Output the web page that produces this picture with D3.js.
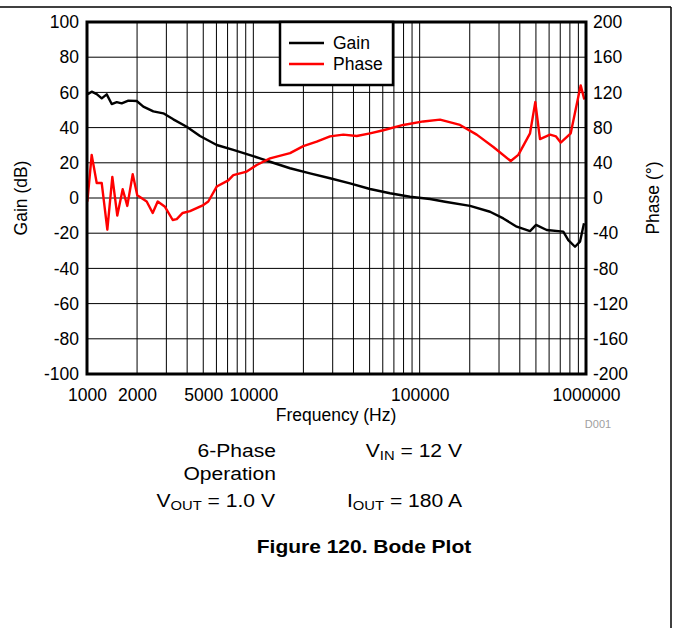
<!DOCTYPE html>
<html>
<head>
<meta charset="utf-8">
<script src="https://cdn.jsdelivr.net/npm/d3@7"></script>
<style>
  html, body { margin: 0; padding: 0; background: #fff; }
  svg { display: block; font-family: "Liberation Sans", Arial, sans-serif; }
</style>
</head>
<body>
<svg id="chart" width="673" height="628"></svg>
<script>
// ---- Data ----
const gainFreq = [1010, 1067, 1144, 1226, 1314, 1408, 1509, 1617, 1772, 1990, 2181, 2504, 2876, 3303, 3976, 4779, 6024, 7578, 9550, 10970, 12600, 16620, 21910, 28910, 38130, 50280, 66320, 87470, 115400, 142100, 200800, 264800, 318400, 383300, 460800, 500600, 580400, 730200, 782600, 858900, 920400, 972700];
const gainDb   = [58.9, 60.4, 59, 56.6, 58.9, 53.4, 54.5, 53.8, 55.3, 55.1, 51.9, 49.2, 48.1, 44.7, 40.5, 35.2, 30.1, 27.3, 24.4, 22.5, 20.6, 16.9, 14, 11.2, 8.3, 5.1, 2.7, 0.7, -0.6, -2.1, -4.5, -7.8, -11.6, -16.3, -18.8, -15.3, -18.2, -19.1, -23.9, -27.7, -24.8, -14.4];

const phaseFreq = [1005, 1067, 1144, 1226, 1325, 1420, 1521, 1639, 1747, 1883, 2006, 2285, 2483, 2661, 2944, 3276, 3462, 3761, 4162, 5004, 5361, 6024, 7071, 7578, 9124, 10480, 12600, 16620, 19970, 24040, 28910, 34750, 41830, 50280, 60450, 79720, 105200, 132600, 174800, 220300, 277300, 352700, 391900, 460800, 495600, 529000, 607700, 660200, 704600, 809400, 929300, 976800];
const phaseDeg  = [-4, 49, 17, 17, -36, 24, -20, 10, -9, 27, 3, -4, -17, -4, -10, -25, -24, -17, -15, -8, -4, 13, 20, 26, 30, 37.5, 45, 51, 59, 64, 70, 72, 70.5, 73.5, 77, 83, 87, 89, 83, 72, 58, 42, 49, 73.5, 109, 67, 72, 70, 63, 73.5, 128, 112];

const gainTicks  = [-100, -80, -60, -40, -20, 0, 20, 40, 60, 80, 100];
const phaseTicks = [-200, -160, -120, -80, -40, 0, 40, 80, 120, 160, 200];
const freqTickLabels = [1000, 2000, 5000, 10000, 100000, 1000000];
const freqGrid = [];
for (let dec = 1000; dec < 1000000; dec *= 10) for (let m = 1; m <= 9; m++) freqGrid.push(dec * m);
freqGrid.push(1000000);

const seriesNames = ["Gain", "Phase"];
const seriesColors = ["#000000", "#ff0000"];

// ---- Layout ----
const svg = d3.select("#chart");
const L = 87, R = 586, T = 22, B = 374;

const x = d3.scaleLog().domain([1000, 1000000]).range([L, R]);
const yG = d3.scaleLinear().domain([-100, 100]).range([B, T]);
const yP = d3.scaleLinear().domain([-200, 200]).range([B, T]);

// outer frame (top and right edges)
svg.append("line").attr("x1", 0).attr("x2", 671).attr("y1", 7).attr("y2", 7)
  .attr("stroke", "#000").attr("stroke-width", 1.5);
svg.append("line").attr("x1", 671).attr("x2", 671).attr("y1", 7).attr("y2", 628)
  .attr("stroke", "#000").attr("stroke-width", 1.5);

// grid
const grid = svg.append("g");
grid.selectAll("line.v").data(freqGrid).join("line")
  .attr("x1", d => x(d)).attr("x2", d => x(d)).attr("y1", T).attr("y2", B)
  .attr("stroke", "#000").attr("stroke-width", 1);
grid.selectAll("line.h").data(gainTicks).join("line")
  .attr("x1", L).attr("x2", R).attr("y1", d => yG(d)).attr("y2", d => yG(d))
  .attr("stroke", "#000").attr("stroke-width", 1);

// axes (labels only, via d3 axes)
const plain = d => String(d);
const axL = d3.axisLeft(yG).tickValues(gainTicks).tickFormat(plain).tickSize(0).tickPadding(8);
const gL = svg.append("g").attr("transform", `translate(${L},0)`).call(axL);
const axR = d3.axisRight(yP).tickValues(phaseTicks).tickFormat(plain).tickSize(0).tickPadding(7);
const gR = svg.append("g").attr("transform", `translate(${R},0)`).call(axR);
const axB = d3.axisBottom(x).tickValues(freqTickLabels).tickFormat(plain).tickSize(0).tickPadding(15);
const gB = svg.append("g").attr("transform", `translate(0,${B})`).call(axB);
[gL, gR, gB].forEach(g => {
  g.select(".domain").remove();
  g.selectAll("text").attr("font-size", 17.5).attr("fill", "#000")
    .attr("font-family", "'Liberation Sans', Arial, sans-serif");
});

// lines
const gainData = gainFreq.map((f, i) => [f, gainDb[i]]);
const phaseData = phaseFreq.map((f, i) => [f, phaseDeg[i]]);
const clipId = "plotclip";
svg.append("clipPath").attr("id", clipId).append("rect")
  .attr("x", L).attr("y", T).attr("width", R - L).attr("height", B - T);
svg.append("path").datum(gainData)
  .attr("clip-path", `url(#${clipId})`)
  .attr("d", d3.line().x(d => x(d[0])).y(d => yG(d[1])))
  .attr("fill", "none").attr("stroke", seriesColors[0]).attr("stroke-width", 2.4)
  .attr("stroke-linejoin", "round");
svg.append("path").datum(phaseData)
  .attr("clip-path", `url(#${clipId})`)
  .attr("d", d3.line().x(d => x(d[0])).y(d => yP(d[1])))
  .attr("fill", "none").attr("stroke", seriesColors[1]).attr("stroke-width", 2.4)
  .attr("stroke-linejoin", "round");

// plot border
svg.append("rect").attr("x", L).attr("y", T).attr("width", R - L).attr("height", B - T)
  .attr("fill", "none").attr("stroke", "#000").attr("stroke-width", 3);

// legend
const lg = svg.append("g");
lg.append("rect").attr("x", 280).attr("y", T).attr("width", 113).attr("height", 63)
  .attr("fill", "#fff").attr("stroke", "#000").attr("stroke-width", 2.5);
seriesNames.forEach((n, i) => {
  const yy = 43 + i * 21;
  lg.append("line").attr("x1", 289).attr("x2", 324).attr("y1", yy).attr("y2", yy)
    .attr("stroke", seriesColors[i]).attr("stroke-width", 2.4);
  lg.append("text").attr("x", 333).attr("y", yy + 6).attr("font-size", 17.5).text(n);
});

// axis titles
svg.append("text").attr("transform", "translate(27,198) rotate(-90)")
  .attr("text-anchor", "middle").attr("font-size", 17.5).text("Gain (dB)");
svg.append("text").attr("transform", "translate(659,198) rotate(-90)")
  .attr("text-anchor", "middle").attr("font-size", 17.5).text("Phase (°)");
svg.append("text").attr("x", 336).attr("y", 421)
  .attr("text-anchor", "middle").attr("font-size", 17.5).text("Frequency (Hz)");
svg.append("text").attr("x", 598).attr("y", 428)
  .attr("text-anchor", "middle").attr("font-size", 11).attr("fill", "#a0a0a0").text("D001");

// conditions text (slightly wide lettering as in the reference)
const fs = 18.5, sx = 1.14;
function plainText(xx, yy, s) {
  svg.append("text").attr("transform", `translate(${xx},${yy}) scale(${sx},1)`)
    .attr("text-anchor", "end").attr("font-size", fs).text(s);
}
function subText(xx, yy, main, sub, rest) {
  const t = svg.append("text").attr("transform", `translate(${xx},${yy}) scale(${sx},1)`)
    .attr("text-anchor", "end").attr("font-size", fs);
  t.append("tspan").text(main);
  t.append("tspan").attr("font-size", 13).attr("dy", 3).text(sub);
  t.append("tspan").attr("dy", -3).text(rest);
}
plainText(276, 456.5, "6-Phase");
plainText(276, 480, "Operation");
subText(462, 456.5, "V", "IN", " = 12 V");
subText(275, 507, "V", "OUT", " = 1.0 V");
subText(462, 507, "I", "OUT", " = 180 A");

svg.append("text").attr("transform", "translate(364,553) scale(1.2,1)").attr("text-anchor", "middle")
  .attr("font-size", 17.5).attr("font-weight", "bold").text("Figure 120. Bode Plot");
</script>
</body>
</html>
